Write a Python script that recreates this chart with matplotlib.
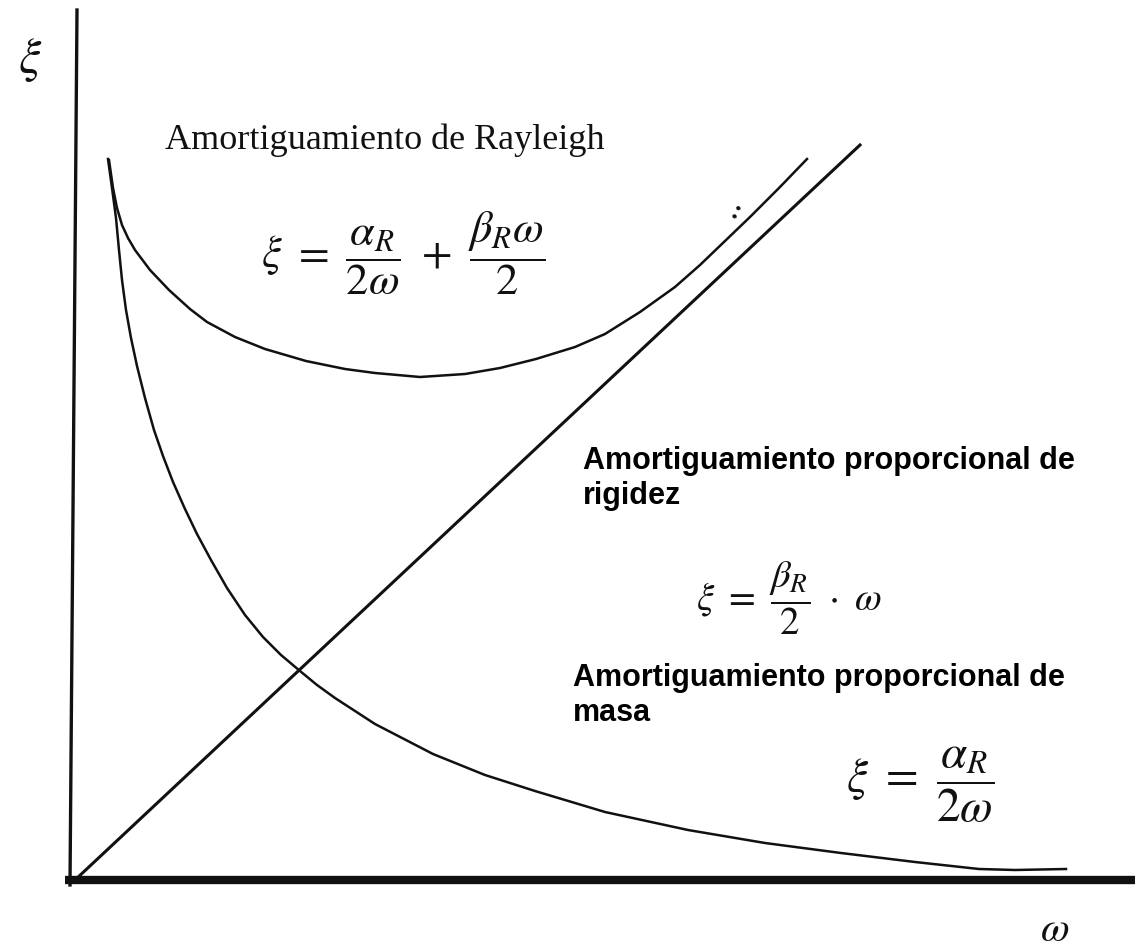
import matplotlib
matplotlib.use("Agg")
import matplotlib.pyplot as plt

plt.rcParams["mathtext.fontset"] = "stix"

# Curves (omega, xi)
omega_masa = [0.33, 0.37, 0.41, 0.44, 0.47, 0.51, 0.56, 0.62, 0.70, 0.79, 0.88,
              0.98, 1.10, 1.22, 1.36, 1.52, 1.70, 1.88, 2.06, 2.25, 2.42, 2.60,
              3.00, 3.58, 4.10, 4.60, 5.30, 6.13, 6.90, 7.66, 8.40, 9.04, 9.40,
              9.91]
xi_masa = [7.21, 6.92, 6.62, 6.30, 6.00, 5.70, 5.42, 5.14, 4.82, 4.50, 4.24,
           3.98, 3.71, 3.46, 3.20, 2.92, 2.65, 2.43, 2.25, 2.09, 1.95, 1.82,
           1.56, 1.26, 1.05, 0.89, 0.68, 0.50, 0.37, 0.27, 0.18, 0.11, 0.10,
           0.11]

omega_rayleigh = [0.34, 0.38, 0.42, 0.47, 0.53, 0.60, 0.75, 0.94, 1.15, 1.32,
                  1.60, 1.90, 2.31, 2.70, 3.00, 3.45, 3.90, 4.25, 4.61, 5.00,
                  5.30, 5.65, 6.00, 6.25, 6.50, 6.75, 7.05, 7.32]
xi_rayleigh = [7.20, 6.92, 6.72, 6.55, 6.42, 6.30, 6.10, 5.90, 5.71, 5.58,
               5.43, 5.31, 5.19, 5.11, 5.07, 5.03, 5.06, 5.12, 5.21, 5.33,
               5.46, 5.68, 5.93, 6.15, 6.39, 6.63, 6.93, 7.21]

omega_rigidez = [0.0, 7.85]
xi_rigidez = [0.0, 7.35]

fig = plt.figure(figsize=(11.35, 9.49), dpi=100)
ax = fig.add_axes([0, 0, 1, 1])
ax.set_xlim(-0.75, 10.60)
ax.set_ylim(-0.69, 8.80)
ax.axis("off")

ink = "#111111"

# axes drawn by hand
ax.plot([-0.10, 10.60], [0.0, 0.0], color=ink, lw=6.0, solid_capstyle="butt")
ax.plot([-0.05, 0.02], [-0.05, 8.70], color=ink, lw=2.4)

# curves
ax.plot(omega_masa, xi_masa, color=ink, lw=1.8, solid_joinstyle="round")
ax.plot(omega_rayleigh, xi_rayleigh, color=ink, lw=1.8, solid_joinstyle="round")
ax.plot(omega_rigidez, xi_rigidez, color=ink, lw=2.2)

# axis symbols
ax.text(-0.45, 8.20, r"$\xi$", fontsize=36, ha="center", va="center", color=ink)
ax.text(9.80, -0.61, r"$\omega$", fontsize=30, ha="center", va="baseline",
        color=ink)

# stray dots near the upper end
ax.text(6.61, 6.67, ":", fontsize=20, ha="center", va="center", color=ink,
        rotation=-25, family="Liberation Serif", weight="bold")

# annotations
ax.text(0.90, 7.40, "Amortiguamiento de Rayleigh", fontsize=26,
        family="Liberation Serif", ha="left", va="center", color=ink)
ax.text(3.28, 6.27,
        r"$\xi\ =\ \dfrac{\alpha_R}{2\omega}\ +\ \dfrac{\beta_R\omega}{2}$",
        fontsize=32, ha="center", va="center", color=ink)

ax.text(5.08, 4.34, "Amortiguamiento proporcional de\nrigidez", fontsize=22,
        family="Liberation Sans", weight="bold", ha="left", va="top",
        linespacing=1.2, color="black")
ax.text(7.14, 2.82, r"$\xi\ =\ \dfrac{\beta_R}{2}\ \cdot\ \omega$",
        fontsize=28, ha="center", va="center", color=ink)

ax.text(4.98, 2.17, "Amortiguamiento proporcional de\nmasa", fontsize=22,
        family="Liberation Sans", weight="bold", ha="left", va="top",
        linespacing=1.2, color="black")
ax.text(8.45, 0.95, r"$\xi\ =\ \dfrac{\alpha_R}{2\omega}$",
        fontsize=34, ha="center", va="center", color=ink)

fig.savefig("out.png", dpi=100)
